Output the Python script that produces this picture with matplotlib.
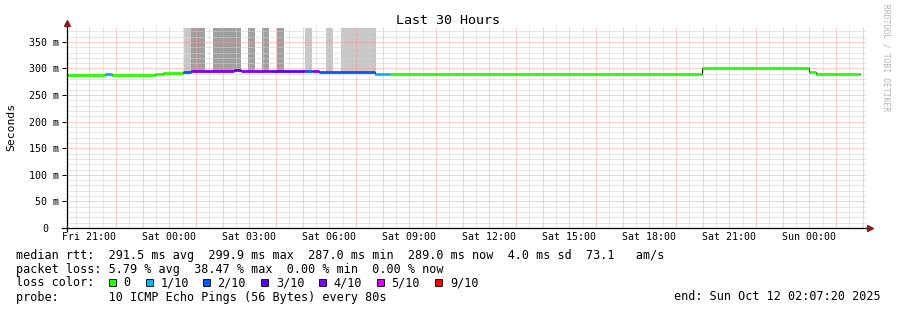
import numpy as np
import matplotlib
matplotlib.use('Agg')
import matplotlib.pyplot as plt
from matplotlib.lines import Line2D
from matplotlib.patches import Rectangle
from matplotlib.ticker import MultipleLocator
from matplotlib.transforms import ScaledTranslation

plt.rcParams['font.family'] = ['DejaVu Sans Mono', 'DejaVu Sans']

W, H = 897, 310

# x is hours since graph start (Fri 20:07:20), window = 30 h
edges = [0.04, 1.46, 1.73, 3.34, 3.64, 4.39, 4.69, 6.30, 6.56, 7.61, 8.96,
         9.23, 9.49, 11.59, 12.15, 23.85, 27.86, 28.13, 29.78]
median_ms = [287.5, 290.5, 287.5, 289.5, 291.5, 294.0, 296.0, 297.5, 296.0,
             294.5, 295.5, 294.5, 293.0, 290.5, 290.0, 300.5, 292.5, 290.0]
loss = [0, 1, 0, 0, 0, 2, 4, 3, 4, 3, 2, 4, 2, 1, 0, 0, 0, 0]

smoke_start = [4.42, 4.69, 5.51, 6.83, 7.35, 7.91, 8.96, 9.75, 10.31]
smoke_end = [4.69, 5.21, 6.56, 7.09, 7.61, 8.18, 9.23, 10.01, 11.63]
smoke_shade = ['#c8c8c8', '#a0a0a0', '#a0a0a0', '#a0a0a0', '#a0a0a0',
               '#a0a0a0', '#c8c8c8', '#c8c8c8', '#c8c8c8']
smoke_top = 376

loss_names = ['0', '1/10', '2/10', '3/10', '4/10', '5/10', '9/10']
loss_keys = [0, 1, 2, 3, 4, 5, 9]
loss_colors = ['#26ff00', '#00b8ff', '#0059ff', '#5e00ff', '#7e00ff',
               '#dd00ff', '#ff0000']

first_hour = 52 / 60 + 40 / 3600   # Fri 21:00
day_labels = ['Fri 21:00', 'Sat 00:00', 'Sat 03:00', 'Sat 06:00', 'Sat 09:00',
              'Sat 12:00', 'Sat 15:00', 'Sat 18:00', 'Sat 21:00', 'Sun 00:00']

y_major = [0, 50, 100, 150, 200, 250, 300, 350]
y_labels = ['0', '50 m', '100 m', '150 m', '200 m', '250 m', '300 m', '350 m']

stats = ['median rtt:  291.5 ms avg  299.9 ms max  287.0 ms min  289.0 ms now  4.0 ms sd  73.1   am/s',
         'packet loss: 5.79 % avg  38.47 % max  0.00 % min  0.00 % now']
probe = 'probe:       10 ICMP Echo Pings (56 Bytes) every 80s'
end_text = 'end: Sun Oct 12 02:07:20 2025'


def fx(x):
    return x / W


def fy(y):
    return 1 - y / H


fig = plt.figure(figsize=(W / 100, H / 100), dpi=100)
ax = fig.add_axes([fx(66), fy(228), 800 / W, 201 / H])
for s in ax.spines.values():
    s.set_visible(False)

# smoke
for s, e, c in zip(smoke_start, smoke_end, smoke_shade):
    i = np.searchsorted(edges, s, side='right') - 1
    ax.fill_between([s, e], median_ms[i], smoke_top, color=c, lw=0, zorder=1)

# median line: dark step underneath, coloured by loss on top
ax.step(edges, median_ms + [median_ms[-1]], where='post', color='#202020',
        lw=0.8, zorder=2)
col = dict(zip(loss_keys, loss_colors))
ax.hlines(median_ms, edges[:-1], edges[1:], colors=[col[l] for l in loss],
          lw=2.0, zorder=3)

# grid
hour_ticks = first_hour + np.arange(30)
half_ticks = first_hour - 0.5 + np.arange(31)
ax.set_xticks(hour_ticks,
              labels=[day_labels[k // 3] if k % 3 == 0 else '' for k in range(30)])
ax.set_xticks(half_ticks[half_ticks < 30], minor=True)
ax.set_yticks(y_major, labels=y_labels)
ax.yaxis.set_minor_locator(MultipleLocator(10))
ax.set_xlim(0, 30)
ax.set_ylim(0, 378)
ax.set_axisbelow('line')
ax.grid(which='minor', color='#cfcfcf', ls=(0, (1, 1)), lw=0.72)
ax.grid(which='major', color='#ff9a9a', ls=(0, (1, 1)), lw=0.72)
ax.tick_params(axis='x', which='both', length=0, pad=3.0, labelsize=7.2)
ax.tick_params(axis='y', which='major', length=3, width=0.72, direction='out',
               pad=2.2, labelsize=7.2, color='black')
ax.tick_params(axis='y', which='minor', length=0)
lab0 = ax.get_yticklabels()[0]
lab0.set_transform(lab0.get_transform() + ScaledTranslation(-0.10, 0, fig.dpi_scale_trans))

# axes with arrows
fig.add_artist(Line2D([fx(66.5), fx(66.5)], [fy(231), fy(23)], color='black',
                      lw=0.9, transform=fig.transFigure))
fig.add_artist(Line2D([fx(62), fx(869)], [fy(228), fy(228)], color='black',
                      lw=0.9, transform=fig.transFigure))
fig.add_artist(Line2D([fx(66.5)], [fy(23)], marker='^', ms=5, color='#802020',
                      transform=fig.transFigure))
fig.add_artist(Line2D([fx(870)], [fy(228)], marker='>', ms=5, color='#802020',
                      transform=fig.transFigure))

fig.text(fx(448), fy(23.5), 'Last 30 Hours', ha='center', va='baseline', fontsize=9.6)
fig.text(fx(11), fy(127), 'Seconds', rotation=90, ha='center', va='center', fontsize=8.2)
fig.text(fx(886), fy(4), 'RRDTOOL / TOBI OETIKER', rotation=270, ha='center',
         va='top', fontsize=5.8, color='#b4b4b4')

fs = 8.5
fig.text(fx(16), fy(258.5), stats[0], fontsize=fs, va='baseline')
fig.text(fx(16), fy(272.5), stats[1], fontsize=fs, va='baseline')
fig.text(fx(16), fy(286.5), 'loss color:', fontsize=fs, va='baseline')
box_x = [108.7, 145.7, 203, 261.3, 319, 377, 435.3]
for bx, name, c in zip(box_x, loss_names, loss_colors):
    fig.add_artist(Rectangle((fx(bx), fy(286)), 7 / W, 7 / H, facecolor=c,
                             edgecolor='black', lw=0.6, transform=fig.transFigure))
    fig.text(fx(bx + 14.5), fy(286.5), name, fontsize=fs, va='baseline')
fig.text(fx(16), fy(300.5), probe, fontsize=fs, va='baseline')
fig.text(fx(881), fy(300.5), end_text, fontsize=fs, va='baseline', ha='right')

fig.savefig('out.png', dpi=100)
